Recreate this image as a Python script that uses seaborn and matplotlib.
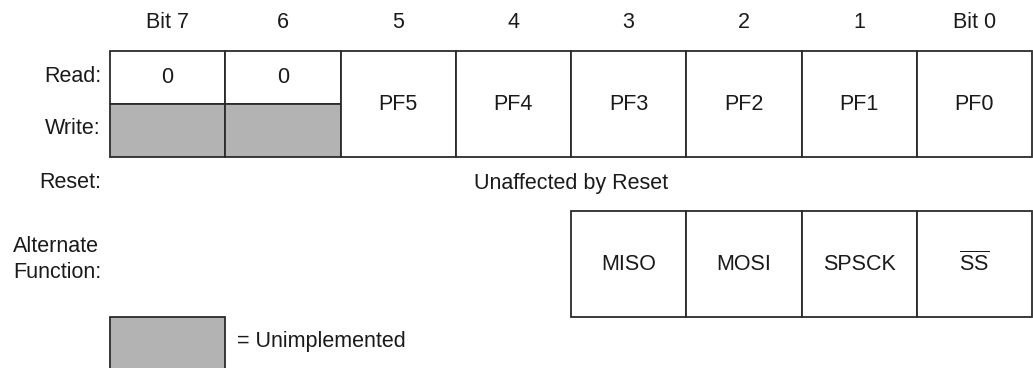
import matplotlib
matplotlib.use("Agg")
import matplotlib.pyplot as plt
import seaborn as sns

# register layout data
bits = [7, 6, 5, 4, 3, 2, 1, 0]
bit_labels = ["Bit 7", "6", "5", "4", "3", "2", "1", "Bit 0"]
read_values = ["0", "0", "PF5", "PF4", "PF3", "PF2", "PF1", "PF0"]
write_implemented = [False, False, True, True, True, True, True, True]
alt_functions = ["", "", "", "", "MISO", "MOSI", "SPSCK", r"$\overline{\mathrm{SS}}$"]
row_labels = ["Read:", "Write:", "Reset:"]
reset_text = "Unaffected by Reset"


def main():
    sns.set_theme(style="white")
    plt.rcParams["font.family"] = ["Liberation Sans", "DejaVu Sans"]
    plt.rcParams["mathtext.fontset"] = "custom"
    plt.rcParams["mathtext.rm"] = "Liberation Sans"

    fig = plt.figure(figsize=(10.33, 3.68), dpi=100)
    ax = fig.add_axes([0, 0, 1, 1])
    ax.set_xlim(0, 1033)
    ax.set_ylim(368, 0)
    ax.axis("off")

    fs = 15.5
    txt = "#1a1a1a"
    edge = "#2b2b2b"
    gray = "#b3b3b3"
    lw = 1.3

    left, col_w = 110, 115.25
    read_top, row_h = 51, 53
    alt_top, alt_h = 211, 106

    for i, (label, val, impl, alt) in enumerate(
        zip(bit_labels, read_values, write_implemented, alt_functions)
    ):
        xc = left + col_w * (i + 0.5)
        ax.text(xc, 23, label, ha="center", va="center", fontsize=fs, color=txt)

        if impl:
            # read/write merged cell
            ax.bar(xc, 2 * row_h, bottom=read_top, width=col_w, color="white",
                   edgecolor=edge, linewidth=lw)
            ax.text(xc, read_top + row_h, val, ha="center", va="center",
                    fontsize=fs, color=txt)
        else:
            ax.bar(xc, row_h, bottom=read_top, width=col_w, color="white",
                   edgecolor=edge, linewidth=lw)
            ax.bar(xc, row_h, bottom=read_top + row_h, width=col_w, color=gray,
                   edgecolor=edge, linewidth=lw)
            ax.text(xc, read_top + row_h / 2, val, ha="center", va="center",
                    fontsize=fs, color=txt)

        if alt:
            ax.bar(xc, alt_h, bottom=alt_top, width=col_w, color="white",
                   edgecolor=edge, linewidth=lw)
            ax.text(xc, alt_top + alt_h / 2, alt, ha="center", va="center",
                    fontsize=fs, color=txt)

    # row labels
    for y, lab in zip([77, 129, 183], row_labels):
        ax.text(101, y, lab, ha="right", va="center", fontsize=fs, color=txt)
    ax.text(left + col_w * 4, 183, reset_text, ha="center", va="center",
            fontsize=fs, color=txt)
    ax.text(13, 247, "Alternate", ha="left", va="center", fontsize=fs, color=txt)
    ax.text(13, 272, "Function:", ha="left", va="center", fontsize=fs, color=txt)

    # legend swatch
    ax.bar(left + col_w / 2, 60, bottom=317, width=col_w, color=gray,
           edgecolor=edge, linewidth=lw)
    ax.text(237, 342, "= Unimplemented", ha="left", va="center", fontsize=fs, color=txt)

    fig.savefig("out.png", dpi=100)


if __name__ == "__main__":
    main()
